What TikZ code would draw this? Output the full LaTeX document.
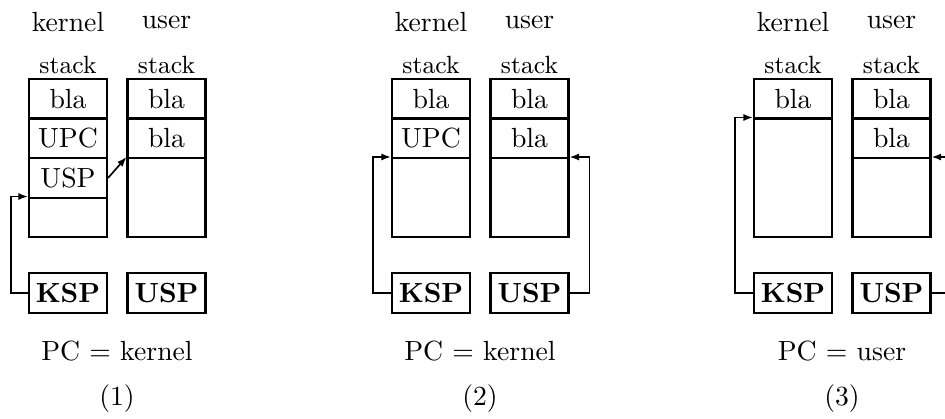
\documentclass[tikz,border=0pt]{standalone}
\usetikzlibrary{arrows.meta}
\begin{document}
\begin{tikzpicture}[x=0.361pt,y=-0.361pt,
  cell/.style={draw,line width=0.9pt,inner sep=0pt,minimum width=28pt,
    minimum height={#1*0.361pt},anchor=north},
  cell/.default=39.5,
  reg/.style={draw,line width=0.9pt,inner sep=0pt,minimum width=28pt,
    minimum height=14.4pt,font=\bfseries},
  stacklbl/.style={font=\small,inner sep=0pt},
  lbl/.style={inner sep=0pt},
  ptr/.style={line width=0.6pt,-{Latex[length=3.5pt,width=2.6pt]}}]
\clip (0,0) rectangle (945,418);

% ---------- (1) ----------
\node[lbl] (kl1) at (68,22) {kernel};
\node[lbl] (ul1) at (166.5,22) {user};
\node[stacklbl] (ks1) at (68,65) {stack};
\node[stacklbl] (us1) at (166.5,65) {stack};
\node[cell] (k1a) at (68,78) {bla};
\node[cell] (k1b) at (68,117.5) {UPC};
\node[cell] (k1c) at (68,157) {USP};
\node[cell] (k1d) at (68,196.5) {};
\node[cell] (u1a) at (166.5,78) {bla};
\node[cell] (u1b) at (166.5,117.5) {bla};
\node[cell=78.5] (u1c) at (166.5,157) {};
\node[reg] (ksp1) at (68,293) {KSP};
\node[reg] (usp1) at (166.5,293) {USP};
\node[lbl] (pc1) at (117,351) {PC $=$ kernel};
\node[lbl] (n1) at (117,399) {(1)};
\draw[ptr] (ksp1.west) -- ++(-17,0) |- (k1d.north west);
\draw[ptr] (k1c.east) -- (u1c.north west);

% ---------- (2) ----------
\begin{scope}[shift={(363,0)}]
\node[lbl] (kl2) at (68,22) {kernel};
\node[lbl] (ul2) at (166.5,22) {user};
\node[stacklbl] (ks2) at (68,65) {stack};
\node[stacklbl] (us2) at (166.5,65) {stack};
\node[cell] (k2a) at (68,78) {bla};
\node[cell] (k2b) at (68,117.5) {UPC};
\node[cell=78.5] (k2c) at (68,157) {};
\node[cell] (u2a) at (166.5,78) {bla};
\node[cell] (u2b) at (166.5,117.5) {bla};
\node[cell=78.5] (u2c) at (166.5,157) {};
\node[reg] (ksp2) at (68,293) {KSP};
\node[reg] (usp2) at (166.5,293) {USP};
\node[lbl] (pc2) at (117,351) {PC $=$ kernel};
\node[lbl] (n2) at (117,399) {(2)};
\draw[ptr] (ksp2.west) -- ++(-18,0) |- (k2c.north west);
\draw[ptr] (usp2.east) -- ++(20,0) |- (u2c.north east);
\end{scope}

% ---------- (3) ----------
\begin{scope}[shift={(725,0)}]
\node[lbl] (kl3) at (68,22) {kernel};
\node[lbl] (ul3) at (166.5,22) {user};
\node[stacklbl] (ks3) at (68,65) {stack};
\node[stacklbl] (us3) at (166.5,65) {stack};
\node[cell] (k3a) at (68,78) {bla};
\node[cell=118] (k3b) at (68,117.5) {};
\node[cell] (u3a) at (166.5,78) {bla};
\node[cell] (u3b) at (166.5,117.5) {bla};
\node[cell=78.5] (u3c) at (166.5,157) {};
\node[reg] (ksp3) at (68,293) {KSP};
\node[reg] (usp3) at (166.5,293) {USP};
\node[lbl] (pc3) at (117,351) {PC $=$ user};
\node[lbl] (n3) at (117,399) {(3)};
\draw[ptr] (ksp3.west) -- ++(-18,0) |- (k3b.north west);
\draw[ptr] (usp3.east) -- ++(20,0) |- (u3c.north east);
\end{scope}
\end{tikzpicture}
\end{document}
